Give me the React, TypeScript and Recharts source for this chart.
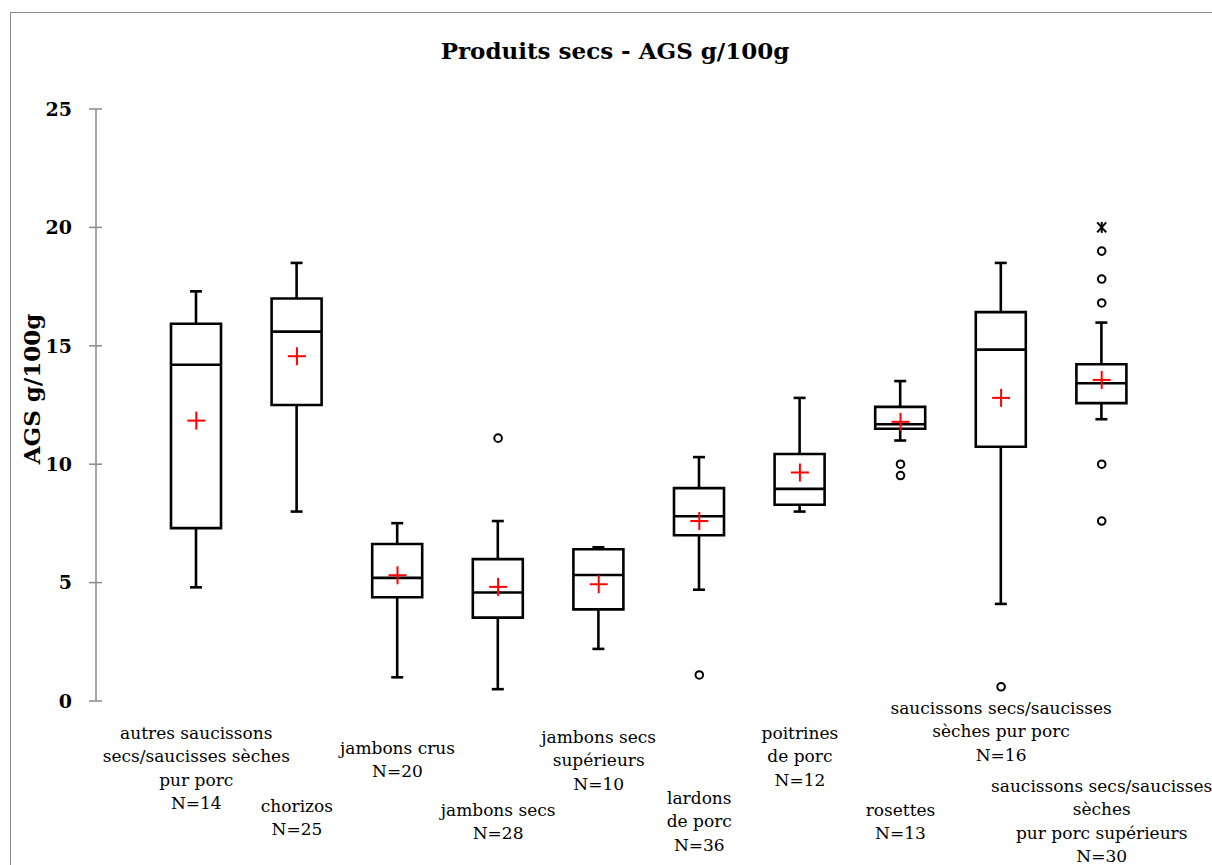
import React from "react";
import { ComposedChart, Bar, Line, XAxis, YAxis } from "recharts";

// tick labels (one entry per category, split over lines)
const categories = [
  ["autres saucissons", "secs/saucisses sèches", "pur porc", "N=14"],
  ["chorizos", "N=25"],
  ["jambons crus", "N=20"],
  ["jambons secs", "N=28"],
  ["jambons secs", "supérieurs", "N=10"],
  ["lardons", "de porc", "N=36"],
  ["poitrines", "de porc", "N=12"],
  ["rosettes", "N=13"],
  ["saucissons secs/saucisses", "sèches pur porc", "N=16"],
  ["saucissons secs/saucisses", "sèches", "pur porc supérieurs", "N=30"],
];

const whiskerLow = [4.8, 8.0, 1.0, 0.5, 2.2, 4.7, 8.0, 11.0, 4.1, 11.9];
const q1 = [7.3, 12.5, 4.38, 3.52, 3.87, 7.0, 8.29, 11.5, 10.74, 12.58];
const median = [14.2, 15.6, 5.2, 4.58, 5.32, 7.8, 8.96, 11.69, 14.84, 13.42];
const q3 = [15.93, 17.0, 6.63, 5.99, 6.41, 8.99, 10.43, 12.42, 16.42, 14.22];
const whiskerHigh = [17.3, 18.5, 7.51, 7.6, 6.49, 10.3, 12.8, 13.51, 18.5, 15.98];
const mean = [11.84, 14.56, 5.31, 4.82, 4.93, 7.6, 9.65, 11.79, 12.8, 13.56];
const outliers = [[], [], [], [11.1], [], [1.1], [], [10.0, 9.52], [0.6], [19.0, 17.82, 16.81, 10.0, 7.6]];
const extremes = [[], [], [], [], [], [], [], [], [], [20.0]];

const yTicks = [0, 5, 10, 15, 20, 25];

const MAX_OUT = 5;

const data = categories.map((lines, i) => {
  const row: any = {
    name: lines.join("\n"),
    whisker: [whiskerLow[i], whiskerHigh[i]],
    box: [q1[i], q3[i]],
    median: median[i],
    mean: mean[i],
    ext: extremes[i].length ? extremes[i][0] : null,
  };
  for (let k = 0; k < MAX_OUT; k++) row["o" + k] = outliers[i][k] ?? null;
  return row;
});

// vertical stagger of category labels below the axis (first line centre, px)
const labelRow = [32, 105, 47, 109, 36, 97, 32, 109, 7, 85];
const LINE_H = 23.3;
const FONT = "'DejaVu Serif', serif";
const AXIS_GRAY = "#8a8a8a";
const BOX_W = 50;

function CatTick(props: any) {
  const { x, y, payload, index } = props;
  const lines = String(payload.value).split("\n");
  const top = y + labelRow[index];
  return (
    <g>
      {lines.map((l, k) => (
        <text key={k} x={x} y={top + k * LINE_H} dy="0.35em" textAnchor="middle" fontFamily={FONT} fontSize={17} fill="#000">
          {l}
        </text>
      ))}
    </g>
  );
}

function ValueTick(props: any) {
  const { x, y, payload } = props;
  const axisX = x + 24;
  return (
    <g>
      <line x1={axisX - 7} x2={axisX + 6} y1={y} y2={y} stroke={AXIS_GRAY} strokeWidth={1.5} />
      <text x={x} y={y} dy="0.36em" textAnchor="end" fontFamily={FONT} fontWeight="bold" fontSize={19} fill="#000">
        {payload.value}
      </text>
    </g>
  );
}

function Whisker(props: any) {
  const { x, y, width, height } = props;
  const cx = x + width / 2;
  return (
    <g stroke="#000" strokeWidth={2.6}>
      <line x1={cx} x2={cx} y1={y} y2={y + height} />
      <line x1={x} x2={x + width} y1={y} y2={y} />
      <line x1={x} x2={x + width} y1={y + height} y2={y + height} />
    </g>
  );
}

function MedianDot(props: any) {
  const { cx, cy } = props;
  if (cy == null || isNaN(cy)) return <g />;
  return <line x1={cx - BOX_W / 2} x2={cx + BOX_W / 2} y1={cy} y2={cy} stroke="#000" strokeWidth={2.6} />;
}

function MeanDot(props: any) {
  const { cx, cy } = props;
  if (cy == null || isNaN(cy)) return <g />;
  return (
    <g stroke="#ff0000" strokeWidth={2}>
      <line x1={cx - 9} x2={cx + 9} y1={cy} y2={cy} />
      <line x1={cx} x2={cx} y1={cy - 9} y2={cy + 9} />
    </g>
  );
}

function OutlierDot(props: any) {
  const { cx, cy } = props;
  if (cy == null || isNaN(cy)) return <g />;
  return <circle cx={cx} cy={cy} r={3.8} fill="#fff" stroke="#000" strokeWidth={2} />;
}

function ExtremeDot(props: any) {
  const { cx, cy } = props;
  if (cy == null || isNaN(cy)) return <g />;
  return (
    <g stroke="#000" strokeWidth={2}>
      <line x1={cx - 4.5} x2={cx + 4.5} y1={cy - 5} y2={cy + 5} />
      <line x1={cx - 4.5} x2={cx + 4.5} y1={cy + 5} y2={cy - 5} />
      <line x1={cx} x2={cx} y1={cy - 5.5} y2={cy + 5.5} />
    </g>
  );
}

export default function App() {
  return (
    <div style={{ position: "fixed", left: 0, top: 0, width: 1212, height: 865, overflow: "hidden", background: "#fff" }}>
      <div
        style={{
          position: "absolute",
          left: 10,
          top: 12,
          width: 1400,
          height: 1000,
          border: "1.5px solid " + AXIS_GRAY,
          boxSizing: "border-box",
        }}
      />
      <div
        style={{
          position: "absolute",
          left: 615,
          top: 50,
          transform: "translate(-50%, -50%)",
          fontFamily: FONT,
          fontWeight: "bold",
          fontSize: 23,
          whiteSpace: "nowrap",
        }}
      >
        Produits secs - AGS g/100g
      </div>
      <div
        style={{
          position: "absolute",
          left: 31,
          top: 389,
          transform: "translate(-50%, -50%) rotate(-90deg)",
          fontFamily: FONT,
          fontWeight: "bold",
          fontSize: 23,
          whiteSpace: "nowrap",
        }}
      >
        AGS g/100g
      </div>
      <div style={{ position: "absolute", left: 0, top: 0 }}>
        <ComposedChart width={1212} height={865} data={data} margin={{ top: 109, right: 0, bottom: 0, left: 0 }}>
          <XAxis xAxisId="w" dataKey="name" hide padding={{ left: 50, right: 60 }} />
          <XAxis
            xAxisId="b"
            dataKey="name"
            height={164}
            axisLine={false}
            tickLine={false}
            tickSize={0}
            tickMargin={0}
            interval={0}
            padding={{ left: 50, right: 60 }}
            tick={<CatTick />}
          />
          <YAxis
            width={96}
            domain={[0, 25]}
            ticks={yTicks}
            allowDataOverflow
            stroke={AXIS_GRAY}
            axisLine={{ stroke: AXIS_GRAY, strokeWidth: 1.5 }}
            tickLine={false}
            tickSize={7}
            tickMargin={17}
            tick={<ValueTick />}
          />
          <Bar xAxisId="w" dataKey="whisker" barSize={12} shape={<Whisker />} isAnimationActive={false} />
          <Bar xAxisId="b" dataKey="box" barSize={BOX_W} fill="#fff" stroke="#000" strokeWidth={2.6} isAnimationActive={false} />
          <Line xAxisId="b" dataKey="median" stroke="none" dot={(p: any) => <MedianDot key={"m" + p.index} {...p} />} activeDot={false} isAnimationActive={false} />
          <Line xAxisId="b" dataKey="mean" stroke="none" dot={(p: any) => <MeanDot key={"a" + p.index} {...p} />} activeDot={false} isAnimationActive={false} />
          {Array.from({ length: MAX_OUT }, (_, k) => (
            <Line
              key={"o" + k}
              xAxisId="b"
              dataKey={"o" + k}
              stroke="none"
              dot={(p: any) => <OutlierDot key={"o" + k + "-" + p.index} {...p} />}
              activeDot={false}
              isAnimationActive={false}
            />
          ))}
          <Line xAxisId="b" dataKey="ext" stroke="none" dot={(p: any) => <ExtremeDot key={"e" + p.index} {...p} />} activeDot={false} isAnimationActive={false} />
        </ComposedChart>
      </div>
    </div>
  );
}
